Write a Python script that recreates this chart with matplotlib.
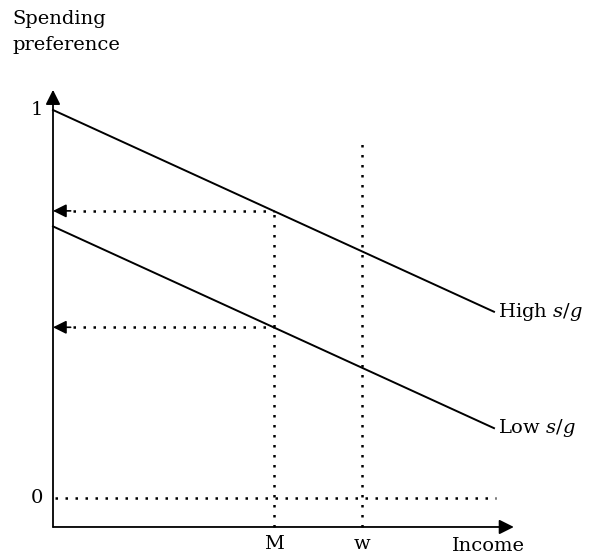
import matplotlib.pyplot as plt

plt.rcParams['font.family'] = 'DejaVu Serif'
plt.rcParams['mathtext.fontset'] = 'dejavuserif'

# datos del esquema
ingreso = [0.0, 1.0]
pref_alta = [1.0, 0.48]     # High s/g
pref_baja = [0.70, 0.18]    # Low s/g
M = 0.5
w = 0.7
w_top = 0.92
etiquetas_y = ['0', '1']
valores_y = [0.0, 1.0]

def recta(x, p):
    return p[0] + (p[1] - p[0]) * (x - ingreso[0]) / (ingreso[1] - ingreso[0])

fig = plt.figure(figsize=(5.94, 5.56), dpi=100)
ax = fig.add_axes([0, 0, 1, 1])
ax.set_xlim(-53 / 441, 541 / 441)
ax.set_ylim(-58 / 388, 498 / 388)
ax.axis('off')

y_eje = -0.0747
punteado = dict(color='black', lw=1.8, ls=(0, (1, 3)), dash_capstyle='butt')
fs = 14

# ejes con flecha
ax.annotate('', xy=(1.045, y_eje), xytext=(0, y_eje),
            arrowprops=dict(arrowstyle='-|>', color='black', lw=1.3, mutation_scale=22, shrinkA=0, shrinkB=0))
ax.annotate('', xy=(0, 1.052), xytext=(0, y_eje),
            arrowprops=dict(arrowstyle='-|>', color='black', lw=1.3, mutation_scale=22, shrinkA=0, shrinkB=0))

# rectas
ax.plot(ingreso, pref_alta, color='black', lw=1.4)
ax.plot(ingreso, pref_baja, color='black', lw=1.4)

# lineas punteadas
ax.plot([0.005, 1.005], [0, 0], **punteado)
ax.plot([w, w], [y_eje, w_top], **punteado)
y_m_alta = recta(M, pref_alta)
y_m_baja = recta(M, pref_baja)
ax.plot([M, M], [y_eje, y_m_alta], **punteado)
for yy in [y_m_alta, y_m_baja]:
    ax.plot([0.045, M], [yy, yy], **punteado)
    ax.annotate('', xy=(0, yy), xytext=(0.04, yy),
                arrowprops=dict(arrowstyle='-|>', color='black', lw=1.2, mutation_scale=20, shrinkA=0, shrinkB=0))

# textos
for v, t in zip(valores_y, etiquetas_y):
    ax.text(-0.022, v, t, ha='right', va='center', fontsize=fs)
ax.text(M, y_eje - 0.02, 'M', ha='center', va='top', fontsize=fs)
ax.text(w, y_eje - 0.02, 'w', ha='center', va='top', fontsize=fs)
ax.text(0.905, y_eje - 0.027, 'Income', ha='left', va='top', fontsize=fs)
ax.text(-0.093, 1.258, 'Spending\npreference', ha='left', va='top', fontsize=fs, linespacing=1.6)
ax.text(1.01, pref_alta[1], r'High $s/g$', ha='left', va='center', fontsize=fs)
ax.text(1.01, pref_baja[1], r'Low $s/g$', ha='left', va='center', fontsize=fs)

fig.savefig('out.png', dpi=100)
